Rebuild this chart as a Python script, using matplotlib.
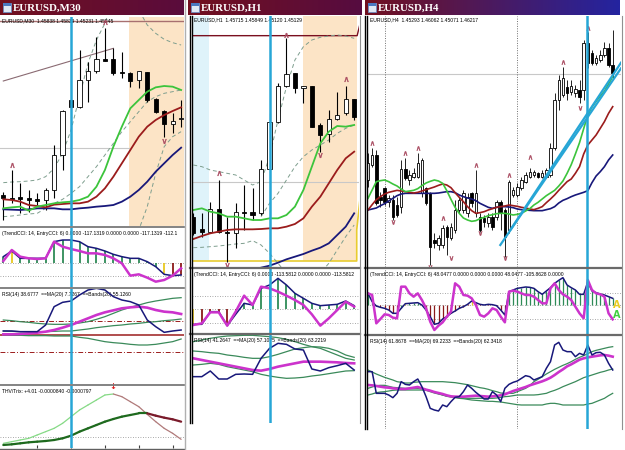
import numpy as np
import matplotlib.pyplot as plt
import matplotlib.colors as mcolors
from matplotlib.lines import Line2D
from matplotlib.patches import Rectangle

nan = np.nan
W, H = 625, 450

# values in screen units (larger number = lower on screen)

# ---------------- EURUSD,M30 ----------------
w1_open = [585, 593, 590, 595, 597, 600, 570, 465, 300, 322, 240, 213, 178, 178, 215, 220, 240, 215, 297, 332, 373, 358]
w1_high = [575, 510, 550, 570, 580, 565, 435, 330, 298, 150, 185, 110, 85, 145, 155, 215, 213, 215, 295, 330, 340, 300]
w1_low = [660, 610, 640, 635, 615, 630, 595, 510, 325, 325, 305, 220, 182, 225, 235, 262, 263, 305, 340, 410, 400, 380]
w1_close = [595, 597, 596, 600, 603, 570, 465, 333, 320, 240, 213, 178, 182, 218, 220, 243, 213, 300, 337, 372, 362, 355]
w1_ma_fast = [625, 622, 620, 632, 620, 615, 610, 607, 605, 600, 590, 560, 510, 440, 380, 325, 300, 275, 262, 258, 260, 270]
w1_ma_mid = [598, 600, 605, 615, 618, 622, 614, 612, 610, 610, 605, 590, 565, 530, 490, 450, 410, 380, 360, 345, 333, 322]
w1_ma_slow = [628, 629, 630, 628, 625, 625, 625, 628, 628, 625, 623, 620, 618, 615, 605, 590, 570, 545, 515, 490, 465, 443]
w1_band_up = [548, 546, 545, 543, 540, 530, 505, 460, 390, 290, 190, 120, 70, -10, -30, -20, 30, 75, 100, 118, 128, 135]
w1_band_mid = [650, 648, 645, 642, 640, 625, 610, 598, 580, 560, 530, 500, 465, 430, 395, 365, 335, 305, 290, 280, 275, 270]
w1_band_lo = [nan] * 15 + [700, 690, 620, 520, 440, 410, 395]
w1_trend_x = [0, 13]
w1_trend_y = [243, 145]
w1_top_level = 63
w1_gray_level = 445
w1_fr_up = {1: 495, 12: 65}
w1_fr_dn = {19: 422}
w1_event_bar = 8
w1_zone_start = 14.9
w1_time_ticks = [4, 8, 12, 16, 20]

w1_cci_trend = [95, 78, 100, 100, 100, 100, 50, 45, 45, 50, 65, 70, 78, 88, 95, 100, 100, 110, 125, 148, 152, 150]
w1_cci_entry = [108, 75, 95, 100, 102, 100, 50, 65, 72, 78, 85, 85, 90, 100, 115, 152, 148, 158, 170, 165, 152, 130]
w1_cci_state = [1, 0, 1, 1, 1, 1, 1, 1, 1, 1, 1, 1, 1, 1, 1, 1, 1, 1, 1, 0, -1, -1]
w1_cci_zero, w1_cci_low = 115, 152

w1_rsi = [318, 318, 320, 320, 320, 300, 245, 232, 228, 210, 195, 190, 195, 215, 225, 230, 240, 285, 305, 322, 318, 315]
w1_rsi_ma = [328, 328, 327, 325, 323, 320, 315, 308, 300, 290, 280, 270, 262, 256, 250, 247, 245, 248, 255, 260, 262, 267]
w1_rsi_up = [285, 287, 290, 292, 295, 297, 298, 298, 297, 294, 290, 283, 275, 265, 255, 247, 240, 233, 228, 224, 220, 218]
w1_rsi_mid = [318, 319, 320, 320, 320, 320, 319, 318, 318, 315, 312, 308, 305, 302, 300, 297, 295, 292, 290, 287, 285, 282]
w1_rsi_lo = [330, 331, 331, 332, 332, 332, 333, 333, 333, 337, 340, 345, 350, 353, 355, 358, 360, 360, 358, 354, 350, 342]
w1_rsi_levels = [287, 330, 380]

w1_thv_fast = [655, 650, 645, 640, 630, 620, 610, 595, 575, 555, 540, 525, 510, 507, 515, 530, 545, 568, 590, 610, 625, 643]
w1_thv_slow = [660, 658, 655, 652, 650, 648, 645, 640, 632, 620, 610, 600, 590, 582, 575, 570, 565, 565, 572, 578, 583, 590]
w1_thv_level = 635
w1_thv_signal = (13, 485)

# ---------------- EURUSD,H1 ----------------
w2_open = [650, 688, 695, 628, 695, 700, 635, 637, 640, 508, 365, 258, 220, 263, 258, 376, 402, 357, 340, 297]
w2_high = [640, 640, 605, 540, 650, 610, 555, 565, 480, 340, 250, 115, 220, 258, 258, 370, 330, 275, 258, 297]
w2_low = [705, 710, 700, 700, 785, 745, 690, 660, 645, 510, 370, 262, 280, 308, 380, 455, 425, 360, 345, 360]
w2_close = [700, 695, 628, 695, 700, 637, 638, 645, 508, 365, 258, 222, 265, 258, 380, 405, 357, 345, 297, 350]
w2_ma_fast = [630, 625, 635, 640, 650, 650, 655, 660, 660, 655, 655, 645, 620, 570, 500, 430, 395, 378, 380, 375]
w2_ma_mid = [717, 708, 700, 695, 690, 688, 688, 688, 687, 685, 685, 680, 672, 655, 620, 590, 550, 510, 475, 455]
w2_ma_slow = [840, 835, 830, 825, 820, 815, 812, 810, 803, 797, 788, 778, 770, 762, 752, 743, 730, 705, 680, 640]
w2_band_up = [495, 500, 510, 515, 520, 525, 540, 555, 545, 470, 360, 260, 180, 140, 120, 112, 108, 105, 108, 115]
w2_band_mid = [nan] * 8 + [650, 610, 580, 540, 500, 470, 450, 435, 420, 400, 385, 375]
w2_band_lo = [743, 742, 740, 738, 735, 732, 730, 722, 735, 760, 790, 820, 840, 850, 840, 820, 790, 750, 710, 675]
w2_res_x, w2_res_y = [-0.5, 19.35, 19.8], [107, 107, 60]
w2_yel_x, w2_yel_y = [-0.5, 19.3, 19.3, 19.8], [783, 783, 690, 570]
w2_gray_level = 545
w2_fr_up = {3: 520, 11: 105, 18: 238}
w2_fr_dn = {15: 465, 4: 795}
w2_event_bar = 9
w2_blue_zone = (-0.5, 1.85)
w2_orange_zone = (12.95, 19.3)

w2_cci_trend = [298, 298, 260, 260, 302, 268, 235, 240, 190, 180, 160, 180, 205, 220, 235, 242, 240, 238, 228, 242]
w2_cci_entry = [300, 295, 262, 262, 302, 260, 212, 240, 185, 190, 200, 212, 225, 240, 268, 302, 280, 255, 230, 245]
w2_cci_state = [0, -1, -1, -1, -1, -1, 1, 1, 1, 1, 1, 1, 1, 1, 1, 1, 1, 1, 1, 1]
w2_cci_levels = [213, 253, 293]

w2_rsi = [455, 455, 438, 462, 462, 448, 447, 448, 400, 370, 355, 358, 372, 375, 432, 438, 428, 422, 415, 435]
w2_rsi_ma = [400, 405, 410, 415, 420, 425, 430, 435, 437, 432, 425, 420, 415, 410, 410, 410, 411, 412, 414, 415]
w2_rsi_up = [350, 345, 340, 336, 333, 332, 331, 331, 333, 335, 338, 343, 350, 358, 365, 370, 380, 390, 400, 405]
w2_rsi_mid = [378, 380, 383, 385, 390, 393, 397, 400, 400, 395, 388, 380, 372, 368, 365, 366, 370, 378, 390, 397]
w2_rsi_lo = [420, 418, 415, 418, 425, 430, 435, 440, 448, 453, 457, 460, 459, 457, 453, 450, 446, 442, 438, 437]

# ---------------- EURUSD,H4 ----------------
w3_open = [540, 495, 465, 590, 565, 605, 600, 615, 620, 508, 540, 530, 530, 580, 565, 580, 720, 735, 735, 680,
           715, 690, 630, 630, 640, 580, 640, 650, 655, 670, 650, 650, 605, 630, 690, 585, 585, 565, 545, 530,
           525, 520, 530, 530, 525, 445, 300, 285, 260, 275, 280, 270, 270, 130, 160, 190, 180, 165, 145, 195]
w3_high = [460, 445, 450, 575, 560, 585, 585, 590, 480, 475, 510, 505, 460, 475, 560, 575, 700, 705, 675, 675,
           670, 600, 590, 570, 580, 575, 510, 640, 645, 640, 640, 600, 600, 625, 540, 560, 550, 530, 515, 505,
           510, 515, 510, 505, 430, 280, 225, 200, 240, 240, 255, 240, 120, 95, 150, 165, 150, 125, 130, 90]
w3_low = [560, 500, 615, 620, 615, 620, 660, 650, 640, 540, 555, 535, 535, 590, 615, 795, 745, 750, 745, 765,
          720, 700, 640, 640, 650, 620, 650, 695, 680, 680, 690, 660, 690, 770, 700, 590, 590, 570, 550, 535,
          530, 535, 535, 535, 530, 450, 330, 290, 300, 285, 290, 310, 300, 205, 195, 195, 185, 170, 200, 235]
w3_close = [490, 465, 610, 600, 605, 595, 650, 645, 508, 535, 525, 520, 490, 480, 610, 740, 730, 715, 685, 710,
            680, 630, 600, 580, 590, 610, 580, 690, 665, 650, 680, 605, 640, 710, 545, 570, 560, 540, 525, 515,
            515, 530, 520, 510, 445, 300, 240, 235, 280, 258, 268, 290, 130, 190, 190, 175, 165, 145, 195, 220]
w3_ma_fast = [595, 570, 545, 542, 540, 545, 552, 558, 567, 575, 573, 571, 566, 557, 549, 544, 540, 543, 550, 572,
              598, 622, 640, 654, 660, 664, 662, 656, 652, 647, 644, 641, 640, 640, 642, 645, 643, 640, 633, 626,
              615, 607, 597, 587, 579, 571, 558, 543, 520, 494, 462, 428, 386, 345, 321, 304, 288, 274, 252, 230]
w3_ma_mid = [630, 614, 599, 590, 582, 577, 574, 571, 573, 575, 577, 579, 577, 573, 569, 565, 561, 556, 552, 555,
             563, 578, 592, 605, 620, 632, 640, 638, 635, 630, 626, 622, 620, 618, 615, 617, 619, 622, 624, 627,
             629, 625, 620, 608, 597, 585, 571, 558, 545, 537, 520, 500, 462, 435, 420, 405, 385, 365, 340, 320]
w3_ma_slow = [630, 627, 624, 617, 611, 603, 595, 587, 582, 580, 580, 580, 580, 580, 580, 580, 580, 579, 577, 575,
              575, 578, 585, 590, 594, 597, 602, 610, 616, 622, 625, 622, 620, 620, 621, 623, 627, 629, 630, 631,
              632, 632, 632, 629, 626, 620, 609, 601, 596, 590, 585, 581, 577, 572, 548, 528, 515, 500, 480, 465]
w3_tl_x = [[34.3, 61.0], [31.9, 61.0]]
w3_tl_y = [[690, 188], [735, 205]]
w3_gray_level = 222
w3_fr_up = {1: 428, 9: 460, 12: 445, 18: 655, 26: 495, 34: 525, 39: 470, 47: 185, 53: 85}
w3_fr_dn = {6: 665, 15: 800, 20: 773, 27: 700, 33: 775, 51: 325}
w3_event_bar = 52.8
w3_sessions = [4, 36]

w3_cci_trend = [205, 230, 243, 247, 250, 255, 265, 265, 250, 236, 235, 234, 233, 240, 255, 275, 298, 295, 282, 275,
                265, 258, 250, 245, 238, 228, 233, 238, 240, 238, 239, 242, 255, 270, 200, 195, 190, 188, 186, 187,
                190, 200, 208, 198, 188, 175, 166, 158, 180, 188, 195, 208, 208, 170, 198, 203, 207, 210, 215, 220]
w3_cci_entry = [205, 210, 295, 282, 268, 270, 278, 280, 185, 185, 205, 215, 205, 225, 250, 290, 315, 302, 292, 275,
                260, 175, 185, 210, 212, 220, 240, 270, 275, 265, 250, 255, 275, 292, 200, 197, 200, 205, 210, 210,
                215, 225, 235, 235, 190, 175, 195, 208, 215, 225, 245, 265, 280, 165, 195, 205, 208, 215, 265, 283]
w3_cci_state = [1, 1, -1, -1, -1, -1, -1, -1, 1, 0, 1, 1, 1, -1, -1, -1, -1, -1, -1, -1,
                -1, -1, -1, -1, -1, 0, -1, -1, -1, -1, -1, -1, -1, -1, 1, 1, 1, 1, 1, 1,
                1, 1, 1, 1, 1, 1, 1, 1, 1, 1, 1, 1, 1, 1, 1, 1, 1, 1, 1, 1]
w3_cci_levels = [203, 240, 283]

w3_rsi = [440, 440, 505, 505, 505, 510, 518, 505, 470, 478, 480, 470, 462, 485, 515, 550, 555, 558, 540, 545,
          530, 517, 515, 500, 480, 490, 502, 512, 522, 522, 500, 510, 530, 490, 478, 472, 468, 460, 452, 455,
          465, 460, 455, 430, 410, 360, 352, 375, 380, 380, 395, 385, 390, 360, 390, 383, 382, 390, 415, 435]
w3_rsi_ma = [480, 481, 483, 485, 487, 488, 490, 491, 492, 492, 490, 488, 486, 490, 494, 497, 501, 504, 507, 511,
             514, 515, 515, 515, 514, 513, 512, 513, 514, 515, 514, 513, 511, 508, 503, 498, 494, 490, 486, 481,
             477, 473, 469, 464, 458, 450, 441, 433, 424, 418, 411, 404, 400, 397, 395, 393, 391, 390, 392, 395]
w3_rsi_up = [435, 441, 447, 452, 457, 461, 465, 470, 472, 474, 474, 472, 471, 470, 470, 470, 470, 470, 470, 471,
             472, 473, 475, 477, 479, 482, 485, 488, 490, 493, 497, 500, 504, 505, 505, 505, 500, 495, 490, 482,
             470, 463, 455, 447, 440, 433, 427, 421, 416, 410, 403, 397, 392, 386, 380, 376, 373, 370, 367, 365]
w3_rsi_mid = [490, 486, 482, 481, 481, 484, 487, 488, 489, 490, 490, 490, 490, 491, 494, 497, 502, 506, 510, 513,
              515, 517, 518, 519, 520, 520, 520, 520, 520, 520, 520, 519, 517, 515, 514, 512, 510, 510, 510, 510,
              510, 509, 507, 505, 500, 496, 491, 485, 480, 475, 470, 464, 458, 454, 450, 446, 442, 439, 435, 432]
w3_rsi_lo = [510, 507, 503, 501, 500, 498, 496, 495, 495, 495, 495, 495, 495, 495, 496, 500, 504, 507, 510, 514,
             516, 518, 520, 521, 523, 525, 526, 527, 528, 529, 529, 530, 531, 533, 535, 537, 539, 540, 540, 540,
             540, 540, 540, 537, 535, 535, 537, 540, 540, 540, 540, 540, 540, 537, 535, 530, 525, 520, 512, 505]

# ---------------- style ----------------
C_GREEN = '#3cc43c'
C_RED = '#9b1c1c'
C_NAVY = '#18187a'
C_BAND = '#7e9e8e'
C_MAG = '#cc33cc'
C_RSIB = '#3a8a5a'
C_CYAN = '#27a6d6'
C_FRACT = '#a8485e'
C_ORANGE = '#fce4c6'
C_LBLUE = '#dff3fa'
STATE_COL = {1: '#2e8b57', -1: '#8b1a1a', 0: '#e8c820'}
SMALL = dict(fontsize=3.6, family='Liberation Sans', color='black', va='top', ha='left')

fig = plt.figure(figsize=(W / 100, H / 100), dpi=100)
fig.patch.set_facecolor('white')


def panel(x0, y0, x1, y1, xlim, ylim):
    ax = fig.add_axes([x0 / W, 1 - y1 / H, (x1 - x0) / W, (y1 - y0) / H])
    ax.set_xlim(*xlim)
    ax.set_ylim(*ylim)
    ax.set_xticks([])
    ax.set_yticks([])
    for s in ax.spines.values():
        s.set_visible(False)
    return ax


def fig_line(xs, ys, color, lw, z=5):
    fig.add_artist(Line2D([x / W for x in xs], [1 - y / H for y in ys], color=color, lw=lw, zorder=z))


def title_bar(x0, x1, text, c_left, c_right):
    ax = fig.add_axes([x0 / W, 1 - 15 / H, (x1 - x0) / W, 15 / H])
    t = np.linspace(0, 1, 256)[None, :, None]
    cl = np.array(mcolors.to_rgb(c_left))
    cr = np.array(mcolors.to_rgb(c_right))
    ax.imshow(cl + (cr - cl) * t, aspect='auto', extent=[0, 1, 0, 1])
    ax.axis('off')
    w = x1 - x0
    ax.add_patch(Rectangle((3 / w, 0.2), 8 / w, 0.6, facecolor='#dfe8f4', edgecolor='#6c8cc0', lw=0.6))
    ax.add_patch(Rectangle((3 / w, 0.62), 8 / w, 0.18, facecolor='#4a78c0', lw=0))
    ax.text(13 / w, 0.47, text, color='white', fontsize=7.8, fontweight='bold',
            family='Liberation Serif', va='center', ha='left')


def candles(ax, o, h, l, c, width, wick_lw):
    x = np.arange(len(o))
    o = np.array(o, float)
    c = np.array(c, float)
    bull = c < o
    ax.vlines(x, h, l, color='black', lw=wick_lw, zorder=3)
    top = np.minimum(o, c)
    hgt = np.maximum(np.abs(c - o), 2.5)
    ax.bar(x, hgt, width, bottom=top, color=np.where(bull, 'white', 'black'),
           edgecolor='black', lw=0.6, zorder=4)


def fractals(ax, ups, downs, ms):
    ax.plot(list(ups.keys()), list(ups.values()), ls='none', marker=r'$\wedge$', color=C_FRACT,
            ms=ms, mew=0.3, zorder=6)
    ax.plot(list(downs.keys()), list(downs.values()), ls='none', marker=r'$\vee$', color=C_FRACT,
            ms=ms, mew=0.3, zorder=6)


def cci_panel(ax, trend, entry, state, levels, zero, lw_bar):
    x = np.arange(len(trend))
    for v in levels:
        ax.axhline(v, color='#8c8c8c', ls=(0, (1, 2)), lw=0.6, zorder=1)
    ax.vlines(x, zero, trend, colors=[STATE_COL[s] for s in state], lw=lw_bar, zorder=2)
    ax.plot(x, trend, color=C_NAVY, lw=1.1, zorder=3)
    ax.plot(x, entry, color=C_MAG, lw=1.8, zorder=4)


def rsi_panel(ax, rsi, ma, up, mid, lo):
    x = np.arange(len(rsi))
    for b in (up, mid, lo):
        ax.plot(x, b, color=C_RSIB, lw=0.9, zorder=2)
    ax.plot(x, ma, color=C_MAG, lw=1.9, zorder=3)
    ax.plot(x, rsi, color=C_NAVY, lw=1.1, zorder=4)


def two_tone(ax, y, c_up, c_dn, lw):
    for i in range(len(y) - 1):
        col = c_up if y[i + 1] <= y[i] else c_dn
        ax.plot([i, i + 1], y[i:i + 2], color=col, lw=lw, solid_capstyle='round')


# ================= window 1 : M30 =================
title_bar(0, 184, 'EURUSD,M30', '#72101f', '#5a0c3c')
xl1 = (-0.39, 21.34)
a = panel(0, 17, 184, 226, xl1, (678, 51))
a.axvspan(w1_zone_start, 30, color=C_ORANGE, lw=0, zorder=0)
a.plot([xl1[0], w1_zone_start], [w1_gray_level] * 2, color='#c8c8c8', lw=0.8, zorder=1)
a.axhline(w1_top_level, color='#a87070', lw=1.0, zorder=1)
a.plot(w1_trend_x, w1_trend_y, color='#8a6a72', lw=0.8, zorder=2)
x1 = np.arange(len(w1_open))
for b in (w1_band_up, w1_band_mid, w1_band_lo):
    a.plot(x1, b, color=C_BAND, lw=0.7, ls=(0, (4, 3)), zorder=2)
candles(a, w1_open, w1_high, w1_low, w1_close, 0.5, 0.8)
a.plot(x1, w1_ma_slow, color=C_NAVY, lw=1.3, zorder=5)
a.plot(x1, w1_ma_mid, color=C_RED, lw=1.3, zorder=5)
a.plot(x1, w1_ma_fast, color=C_GREEN, lw=1.3, zorder=5)
fractals(a, w1_fr_up, w1_fr_dn, 3.4)
a.axvline(w1_event_bar, color=C_CYAN, lw=1.8, zorder=7)
a.text(0.01, 0.995, 'EURUSD,M30  1.45838 1.45839 1.45231 1.45245', transform=a.transAxes, **SMALL)

a = panel(0, 228, 184, 287, xl1, (186, 9))
cci_panel(a, w1_cci_trend, w1_cci_entry, w1_cci_state, [w1_cci_zero, w1_cci_low], w1_cci_zero, 1.3)
a.axvline(w1_event_bar, color=C_CYAN, lw=1.8, zorder=7)
a.text(0.01, 0.95, '(TrendCCI: 14, EntryCCI: 6) 0.0000 -117.1319 0.0000 0.0000 -117.1319 -112.1',
       transform=a.transAxes, **SMALL)

a = panel(0, 289, 184, 384, xl1, (477, 192))
a.axhline(w1_rsi_levels[1], color=C_RED, lw=1.1, zorder=1)
for v in (w1_rsi_levels[0], w1_rsi_levels[2]):
    a.axhline(v, color=C_RED, lw=0.7, ls=(0, (5, 2, 1, 2)), zorder=1)
rsi_panel(a, w1_rsi, w1_rsi_ma, w1_rsi_up, w1_rsi_mid, w1_rsi_lo)
a.axvline(w1_event_bar, color=C_CYAN, lw=1.8, zorder=7)
a.text(0.01, 0.97, 'RSI(14) 38.6777  ==MA(20) 7.7267  ==Bands(20) 55.1260', transform=a.transAxes, **SMALL)

a = panel(0, 386, 184, 448, xl1, (669, 483))
a.axhline(w1_thv_level, color='#8c8c8c', ls=(0, (1, 2)), lw=0.6)
two_tone(a, w1_thv_fast, '#86da86', '#b07a7a', 0.9)
two_tone(a, w1_thv_slow, '#1e6a1e', '#7a1a2a', 1.6)
a.text(w1_thv_signal[0], w1_thv_signal[1], '\u2193', color='#e02020', fontsize=6, fontweight='bold',
       family='DejaVu Sans', ha='center', va='center')
a.axvline(w1_event_bar, color=C_CYAN, lw=1.8, zorder=7)
a.set_xticks(w1_time_ticks)
a.set_xticklabels([])
a.tick_params(axis='x', direction='in', length=2.5, width=0.8, color='#404040')
a.text(0.01, 0.95, 'THV/Trix: +4.01 -0.0000840 -0.0000797', transform=a.transAxes, **SMALL)

for y in (227, 288, 385):
    fig_line([0, 184], [y, y], '#7a7a7a', 1.3)
fig_line([0, 184], [448.5, 448.5], '#606060', 1.0)
fig_line([184.5, 184.5], [0, 450], '#b0b0b0', 1.0)

# ================= window 2 : H1 =================
title_bar(188, 362, 'EURUSD,H1', '#72101f', '#560c40')
xl2 = (-0.16, 19.57)
a = panel(192, 16, 359, 267, xl2, (801, 48))
a.fill_betweenx([0, w2_yel_y[0]], *w2_blue_zone, color=C_LBLUE, lw=0, zorder=0)
a.fill_betweenx([0, w2_yel_y[0]], *w2_orange_zone, color=C_ORANGE, lw=0, zorder=0)
a.axhline(w2_gray_level, color='#c8c8c8', lw=0.8, zorder=1)
a.plot(w2_res_x, w2_res_y, color='#7a1020', lw=1.0, zorder=2)
a.plot(w2_yel_x, w2_yel_y, color='#e8cc30', lw=1.2, zorder=2)
x2 = np.arange(len(w2_open))
for b in (w2_band_up, w2_band_mid, w2_band_lo):
    a.plot(x2, b, color=C_BAND, lw=0.7, ls=(0, (4, 3)), zorder=2)
candles(a, w2_open, w2_high, w2_low, w2_close, 0.5, 0.8)
a.plot(x2, w2_ma_slow, color=C_NAVY, lw=1.3, zorder=5)
a.plot(x2, w2_ma_mid, color=C_RED, lw=1.3, zorder=5)
a.plot(x2, w2_ma_fast, color=C_GREEN, lw=1.3, zorder=5)
fractals(a, w2_fr_up, w2_fr_dn, 3.4)
a.axvline(w2_event_bar, color=C_CYAN, lw=1.8, zorder=7)
a.text(0.01, 0.995, 'EURUSD,H1  1.45715 1.45849 1.45120 1.45129', transform=a.transAxes, **SMALL)

a = panel(192, 269, 359, 333, xl2, (324, 132))
cci_panel(a, w2_cci_trend, w2_cci_entry, w2_cci_state, w2_cci_levels, w2_cci_levels[1], 1.3)
a.axvline(w2_event_bar, color=C_CYAN, lw=1.8, zorder=7)
a.text(0.01, 0.95, '(TrendCCI: 14, EntryCCI: 6) 0.0000 -113.5812 0.0000 0.0000 -113.5812',
       transform=a.transAxes, **SMALL)

a = panel(192, 335, 359, 423, xl2, (594, 330))
rsi_panel(a, w2_rsi, w2_rsi_ma, w2_rsi_up, w2_rsi_mid, w2_rsi_lo)
a.axvline(w2_event_bar, color=C_CYAN, lw=1.8, zorder=7)
a.text(0.01, 0.97, 'RSI(14) 41.2647  ==MA(20) 57.1075  ==Bands(20) 63.2219', transform=a.transAxes, **SMALL)

for y in (268, 334):
    fig_line([190, 360], [y, y], '#6a6a6a', 1.6)
fig_line([190, 190], [16, 423], 'black', 1.0)
fig_line([191.8, 191.8], [16, 423], 'black', 1.0)
fig_line([359.5, 359.5], [16, 423], '#909090', 0.8)

# ================= window 3 : H4 =================
title_bar(365, 620, 'EURUSD,H4', '#72101f', '#2424a0')
xl3 = (-0.24, 61.0)
a = panel(367, 16, 621, 267, xl3, (801, 48))
a.axhline(w3_gray_level, color='#c8c8c8', lw=0.8, zorder=1)
for s in w3_sessions:
    a.axvline(s, color='#707070', ls=(0, (1, 1.5)), lw=0.7, zorder=1)
candles(a, w3_open, w3_high, w3_low, w3_close, 0.6, 0.6)
x3 = np.arange(len(w3_open))
a.plot(x3, w3_ma_slow, color=C_NAVY, lw=1.2, zorder=5)
a.plot(x3, w3_ma_mid, color=C_RED, lw=1.2, zorder=5)
a.plot(x3, w3_ma_fast, color=C_GREEN, lw=1.2, zorder=5)
for tx, ty in zip(w3_tl_x, w3_tl_y):
    a.plot(tx, ty, color=C_CYAN, lw=1.6, zorder=6)
fractals(a, w3_fr_up, w3_fr_dn, 3.0)
a.axvline(w3_event_bar, color=C_CYAN, lw=1.8, zorder=7)
a.text(0.01, 0.995, 'EURUSD,H4  1.45293 1.46062 1.45071 1.46217', transform=a.transAxes, **SMALL)

a = panel(367, 269, 621, 334, xl3, (327, 132))
for s in w3_sessions:
    a.axvline(s, color='#707070', ls=(0, (1, 1.5)), lw=0.7, zorder=1)
cci_panel(a, w3_cci_trend, w3_cci_entry, w3_cci_state, w3_cci_levels, w3_cci_levels[1], 0.9)
a.axvline(w3_event_bar, color=C_CYAN, lw=1.8, zorder=7)
a.text(59.9, 240, 'A', color='#e8cc20', fontsize=7, fontweight='bold', ha='center', va='center', zorder=8)
a.text(59.9, 270, 'A', color='#40d040', fontsize=7, fontweight='bold', ha='center', va='center', zorder=8)
a.text(0.01, 0.95, '(TrendCCI: 14, EntryCCI: 6) 48.0477 0.0000 0.0000 0.0000 48.0477 -105.8628 0.0000',
       transform=a.transAxes, **SMALL)

a = panel(367, 336, 621, 429, xl3, (612, 333))
for s in w3_sessions:
    a.axvline(s, color='#707070', ls=(0, (1, 1.5)), lw=0.7, zorder=1)
rsi_panel(a, w3_rsi, w3_rsi_ma, w3_rsi_up, w3_rsi_mid, w3_rsi_lo)
a.axvline(w3_event_bar, color=C_CYAN, lw=1.8, zorder=7)
a.text(0.01, 0.97, 'RSI(14) 61.8678  ==MA(20) 69.2233  ==Bands(20) 62.3418', transform=a.transAxes, **SMALL)

for y in (268, 335):
    fig_line([365, 621], [y, y], '#6a6a6a', 1.6)
fig_line([365, 365], [16, 429], 'black', 1.0)
fig_line([366.6, 366.6], [16, 429], 'black', 1.0)
fig_line([621.5, 621.5], [16, 429], '#909090', 0.8)

fig.savefig('out.png', dpi=100, facecolor='white')
